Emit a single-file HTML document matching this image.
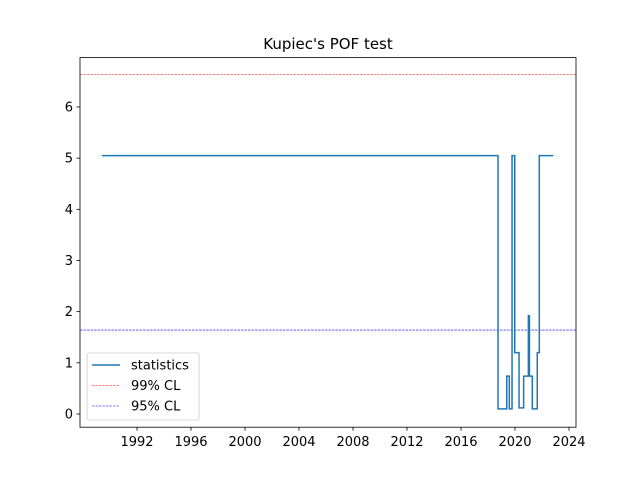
<!DOCTYPE html>
<html><head><meta charset="utf-8"><style>body{margin:0;background:#fff}svg{font-family:"DejaVu Sans","Liberation Sans",sans-serif}</style></head>
<body>
<svg id="c" width="640" height="480" xmlns="http://www.w3.org/2000/svg"></svg>
<script>
const dates=[1989.4,2018.74,2019.39,2019.58,2019.78,2019.98,2020.30,2020.64,2020.99,2021.07,2021.28,2021.65,2021.80,2022.84];
const values=[5.05,0.1,0.74,0.1,5.05,1.2,0.12,0.74,1.92,0.74,0.1,1.2,5.05,5.05];
const xTicks=[1992,1996,2000,2004,2008,2012,2016,2020,2024];
const yTicks=[0,1,2,3,4,5,6];
const cl99=6.63, cl95=1.64;
const L=80,R=576,T=57.6,B=427.2;
const xs=v=>137+(v-1992)*13.5;
const ys=v=>414-v*51.17;
const svg=document.getElementById('c');
const NS='http://www.w3.org/2000/svg';
function mk(t,a,p){const e=document.createElementNS(NS,t);for(const k in a)e.setAttribute(k,a[k]);(p||svg).appendChild(e);return e;}
let t=mk('text',{x:328,y:49,'text-anchor':'middle','font-size':15});t.textContent="Kupiec's POF test";


let l=mk('line',{x1:L,x2:R,y1:ys(cl99),y2:ys(cl99),stroke:'red','stroke-width':0.6,'stroke-dasharray':'2.5,1'});


l=mk('line',{x1:L,x2:R,y1:ys(cl95),y2:ys(cl95),stroke:'blue','stroke-width':0.6,'stroke-dasharray':'2.5,1'});


let d='';
for(let i=0;i<dates.length;i++){
  if(i==0)d+='M'+xs(dates[0])+','+ys(values[0]);
  else d+='L'+xs(dates[i])+','+ys(values[i-1])+'L'+xs(dates[i])+','+ys(values[i]);
}
let p=mk('path',{d:d,fill:'none',stroke:'#1f77b4','stroke-width':1.5});


let fr=mk('rect',{x:L,y:T,width:R-L,height:B-T,fill:'none',stroke:'#000','stroke-width':0.8});


xTicks.forEach(v=>{
  mk('line',{x1:xs(v),x2:xs(v),y1:B,y2:B+3.5,stroke:'#000','stroke-width':0.8});
  const tx=mk('text',{x:xs(v),y:B+19,'text-anchor':'middle','font-size':13});tx.textContent=v;
  
  
});
yTicks.forEach(v=>{
  mk('line',{x1:L-3.5,x2:L,y1:ys(v),y2:ys(v),stroke:'#000','stroke-width':0.8});
  const tx=mk('text',{x:L-7,y:ys(v)+4.5,'text-anchor':'end','font-size':13});tx.textContent=v;
  
  
});
const g=mk('g',{});


mk('rect',{x:87,y:353,width:112,height:67,rx:2,fill:'#fff','fill-opacity':0.8,stroke:'#ccc','stroke-width':0.8},g);
const items=[['statistics','#1f77b4',1.5,''],['99% CL','red',0.6,'2.5,1'],['95% CL','blue',0.6,'2.5,1']];
items.forEach((it,i)=>{
  const y=365+i*20.5;
  mk('line',{x1:92,x2:120,y1:y,y2:y,stroke:it[1],'stroke-width':it[2],'stroke-dasharray':it[3]},g);
  const tx=mk('text',{x:131,y:y+4.5,'font-size':13},g);tx.textContent=it[0];
  
  
});
</script>
</body></html>
